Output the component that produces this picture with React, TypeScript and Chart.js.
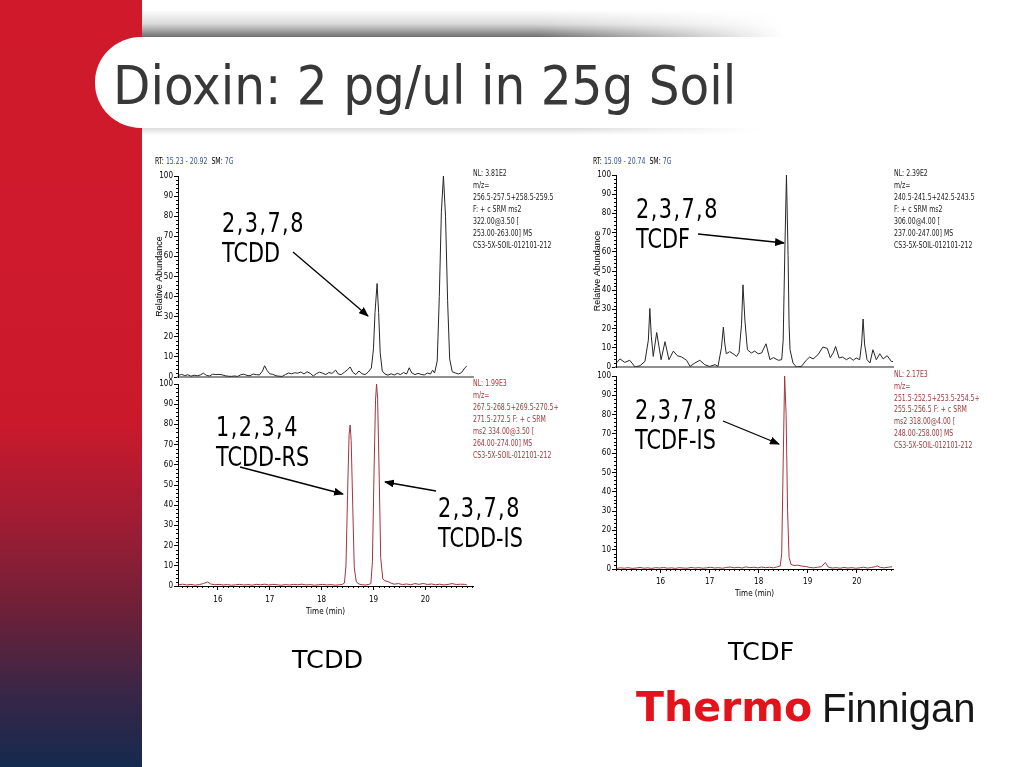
import React, { useEffect, useRef } from 'react';
import { Chart, registerables } from 'chart.js';
Chart.register(...registerables);

// ---------------- DATA ----------------
// 2,3,7,8-TCDD trace (top left), m/z 256.5-259.5
const tcddTime = [
  15.24, 15.30, 15.36, 15.42, 15.48, 15.54, 15.60, 15.66, 15.72, 15.78,
  15.84, 15.90, 15.96, 16.02, 16.08, 16.14, 16.20, 16.26, 16.32, 16.38,
  16.44, 16.50, 16.56, 16.62, 16.68, 16.74, 16.80, 16.86, 16.90, 16.95,
  17.00, 17.06, 17.12, 17.18, 17.24, 17.30, 17.36, 17.42, 17.48, 17.54,
  17.60, 17.66, 17.72, 17.78, 17.84, 17.90, 17.96, 18.02, 18.08, 18.14,
  18.20, 18.27, 18.32, 18.38, 18.44, 18.50, 18.55, 18.60, 18.66, 18.72,
  18.78, 18.84, 18.90, 18.96, 19.00, 19.03, 19.07, 19.10, 19.13, 19.17,
  19.22, 19.28, 19.34, 19.40, 19.46, 19.52, 19.58, 19.64, 19.69, 19.74,
  19.80, 19.86, 19.92, 19.98, 20.04, 20.10, 20.14, 20.18, 20.23, 20.27,
  20.31, 20.35, 20.39, 20.43, 20.47, 20.52, 20.58, 20.64, 20.70, 20.76,
  20.80,
];
const tcddAbund = [
  0.8, 1.3, 0.7, 1.1, 0.4, 0.9, 0.6, 1.0, 1.9, 0.8,
  0.5, 1.4, 1.2, 1.3, 1.1, 0.6, 0.4, 0.3, 0.5, 0.3,
  1.1, 1.4, 0.8, 0.6, 1.5, 1.2, 1.0, 3.0, 5.6, 3.2,
  1.6, 1.3, 0.6, 0.4, 0.3, 1.2, 2.0, 1.6, 2.1, 1.9,
  2.5, 1.5, 2.6, 1.8, 0.5, 1.7, 2.4, 1.9, 1.2, 2.2,
  1.8, 3.4, 1.5, 1.2, 2.4, 3.6, 5.0, 2.4, 1.2, 3.0,
  1.6, 1.2, 2.5, 4.5, 14, 32, 46.5, 32, 12, 3.0,
  1.5, 0.9, 1.6, 1.0, 1.8, 1.2, 2.2, 1.5, 4.6, 2.0,
  1.2, 1.8, 1.3, 1.0, 2.0, 1.5, 3.4, 2.0, 8, 40,
  82, 100, 80, 38, 9, 2.6, 2.0, 1.5, 2.2, 4.5,
  5.4,
];

// 1,2,3,4-TCDD-RS and 2,3,7,8-TCDD-IS trace (bottom left)
const tcddIsTime = [
  15.24, 15.32, 15.40, 15.48, 15.56, 15.64, 15.72, 15.80, 15.86, 15.94,
  16.02, 16.10, 16.18, 16.26, 16.34, 16.42, 16.50, 16.58, 16.66, 16.74,
  16.82, 16.90, 16.98, 17.06, 17.14, 17.22, 17.30, 17.38, 17.46, 17.54,
  17.62, 17.70, 17.78, 17.86, 17.94, 18.02, 18.10, 18.18, 18.26, 18.34,
  18.40, 18.44, 18.47, 18.50, 18.53, 18.55, 18.57, 18.60, 18.63, 18.67,
  18.72, 18.78, 18.84, 18.90, 18.95, 18.98, 19.01, 19.04, 19.06, 19.08,
  19.11, 19.14, 19.18, 19.22, 19.28, 19.34, 19.40, 19.48, 19.56, 19.64,
  19.72, 19.80, 19.88, 19.96, 20.04, 20.12, 20.20, 20.28, 20.36, 20.44,
  20.52, 20.60, 20.68, 20.76, 20.80,
];
const tcddIsAbund = [
  0.6, 0.9, 0.5, 0.8, 0.4, 0.7, 1.2, 2.0, 1.0, 0.6,
  0.8, 0.5, 0.7, 0.4, 0.6, 0.8, 0.5, 0.7, 0.4, 0.8,
  0.6, 0.9, 0.5, 0.8, 0.6, 0.4, 0.7, 0.5, 0.8, 0.6,
  0.9, 0.5, 0.7, 0.4, 0.6, 0.8, 0.5, 0.7, 0.4, 0.6,
  0.8, 1.5, 10, 45, 75, 79.7, 72, 40, 9, 2.0,
  1.0, 0.6, 0.5, 0.7, 1.2, 12, 55, 92, 100, 93,
  55, 14, 3.5, 2.6, 2.2, 1.4, 0.9, 1.2, 0.7, 1.0,
  0.6, 1.2, 0.8, 1.3, 0.7, 1.0, 0.6, 0.9, 0.5, 0.8,
  1.2, 0.7, 0.9, 0.8, 0.6,
];

// 2,3,7,8-TCDF trace (top right)
const tcdfTime = [
  15.10, 15.17, 15.27, 15.37, 15.48, 15.58, 15.68, 15.75, 15.78, 15.81,
  15.85, 15.92, 16.01, 16.09, 16.17, 16.26, 16.34, 16.43, 16.53, 16.60,
  16.70, 16.80, 16.90, 17.00, 17.11, 17.17, 17.24, 17.28, 17.31, 17.34,
  17.41, 17.48, 17.55, 17.60, 17.65, 17.68, 17.72, 17.77, 17.85, 17.92,
  17.99, 18.06, 18.15, 18.23, 18.30, 18.40, 18.47, 18.50, 18.535, 18.567,
  18.60, 18.62, 18.64, 18.70, 18.77, 18.87, 18.97, 19.04, 19.11, 19.21,
  19.31, 19.40, 19.46, 19.52, 19.57, 19.64, 19.71, 19.79, 19.86, 19.93,
  19.99, 20.06, 20.10, 20.13, 20.16, 20.21, 20.27, 20.33, 20.40, 20.47,
  20.54, 20.62, 20.71, 20.74,
];
const tcdfAbund = [
  2.1, 4.2, 2.4, 3.5, 0, 0.7, 2.9, 14, 30.5, 16,
  5.5, 18, 3.8, 13.2, 3.8, 8.3, 5.9, 5.2, 3.5, 0.3,
  2.1, 3.5, 1.2, 0.3, 1.2, 0.3, 10, 20.8, 12, 6.9,
  8, 6.9, 5.5, 7.6, 22, 42.8, 24, 9, 7.3, 8.3,
  6.9, 7.3, 12.1, 3.8, 4.9, 3.5, 3.8, 14, 62, 100,
  58, 22, 9, 2.1, 0, 0.3, 3.5, 5.2, 4.2, 6.4,
  10.4, 9.7, 4.9, 7.3, 10.7, 4.7, 5.2, 3.8, 4.9, 3.5,
  4.7, 3.8, 12, 25, 12, 3.8, 2.1, 9, 3.8, 6.9,
  4.2, 5.9, 2.8, 2.9,
];

// 2,3,7,8-TCDF-IS trace (bottom right)
const tcdfIsTime = [
  15.10, 15.18, 15.26, 15.34, 15.42, 15.50, 15.58, 15.66, 15.74, 15.82,
  15.90, 15.98, 16.06, 16.14, 16.22, 16.30, 16.38, 16.46, 16.54, 16.62,
  16.70, 16.78, 16.86, 16.94, 17.02, 17.10, 17.18, 17.26, 17.34, 17.42,
  17.50, 17.58, 17.66, 17.74, 17.82, 17.90, 17.98, 18.06, 18.14, 18.22,
  18.30, 18.38, 18.44, 18.47, 18.50, 18.53, 18.56, 18.59, 18.62, 18.66,
  18.72, 18.80, 18.88, 18.96, 19.04, 19.12, 19.20, 19.28, 19.36, 19.42,
  19.50, 19.58, 19.66, 19.74, 19.82, 19.90, 19.98, 20.06, 20.14, 20.22,
  20.30, 20.38, 20.42, 20.48, 20.56, 20.64, 20.72,
];
const tcdfIsAbund = [
  0.3, 0.6, 0.4, 0.7, 0.3, 0.5, 0.8, 0.4, 0.6, 0.3,
  0.7, 0.5, 0.8, 0.4, 0.6, 0.3, 0.7, 0.5, 0.4, 0.8,
  0.5, 0.7, 0.4, 0.6, 0.9, 0.5, 0.7, 0.4, 0.8, 1.0,
  0.6, 0.9, 0.5, 1.1, 0.7, 0.9, 0.6, 1.0, 0.7, 0.9,
  0.6, 1.1, 1.6, 8, 55, 100, 80, 30, 6, 2.4,
  1.8, 2.0, 1.5, 1.3, 0.8, 0.6, 0.9, 1.2, 3.4, 1.0,
  0.5, 0.7, 0.4, 0.8, 0.5, 0.7, 0.4, 0.6, 0.9, 0.5,
  0.8, 1.2, 1.6, 0.8, 0.6, 0.9, 1.2,
];

// axis ranges / ticks
const tcddRange = [15.23, 20.92];
const tcdfRange = [15.09, 20.74];
const yRange = [0, 100];
const yMajorStep = 10;
const yMinorStep = 2;
const xMajorStep = 1;
const xMinorStep = 0.1;

// header / info texts
const tcddRT = ['15.23 - 20.92', '7G'];
const tcdfRT = ['15.09 - 20.74', '7G'];
const tcddInfo = ['NL: 3.81E2', 'm/z=', '256.5-257.5+258.5-259.5', 'F: + c SRM ms2', '322.00@3.50 [', '253.00-263.00] MS', 'CS3-5X-SOIL-012101-212'];
const tcddIsInfo = ['NL: 1.99E3', 'm/z=', '267.5-268.5+269.5-270.5+', '271.5-272.5 F: + c SRM', 'ms2 334.00@3.50 [', '264.00-274.00] MS', 'CS3-5X-SOIL-012101-212'];
const tcdfInfo = ['NL: 2.39E2', 'm/z=', '240.5-241.5+242.5-243.5', 'F: + c SRM ms2', '306.00@4.00 [', '237.00-247.00] MS', 'CS3-5X-SOIL-012101-212'];
const tcdfIsInfo = ['NL: 2.17E3', 'm/z=', '251.5-252.5+253.5-254.5+', '255.5-256.5 F: + c SRM', 'ms2 318.00@4.00 [', '248.00-258.00] MS', 'CS3-5X-SOIL-012101-212'];

// ---------------- STYLE ----------------
const NARROW = '"Liberation Sans Narrow", "Arial Narrow", "DejaVu Sans Condensed", sans-serif';
const BLACK_TRACE = '#262626';
const RED_TRACE = '#a3353b';
const RED_TEXT = '#a03a3e';
const BLUE_TEXT = '#2f4fa8';
const Y_W = 24;
const PAD_T = 8;
const PAD_R = 2;

const minorTicksPlugin = {
  id: 'minorTicks',
  afterDraw(chart: any, _args: any, opts: any) {
    const ctx = chart.ctx;
    ctx.save();
    ctx.strokeStyle = '#000';
    ctx.lineWidth = 1;
    const ys = chart.scales.y;
    if (opts.yStep) {
      const n = Math.round((ys.max - ys.min) / opts.yStep);
      const per = Math.round(opts.yMajor / opts.yStep);
      for (let k = 0; k <= n; k++) {
        if (k % per === 0) continue;
        const py = Math.round(ys.getPixelForValue(ys.min + k * opts.yStep)) + 0.5;
        ctx.beginPath();
        ctx.moveTo(ys.right - opts.yLen, py);
        ctx.lineTo(ys.right, py);
        ctx.stroke();
      }
    }
    const xs = chart.scales.x;
    if (opts.xStep) {
      const per = Math.round(opts.xMajor / opts.xStep);
      const k0 = Math.ceil(xs.min / opts.xStep - 1e-6);
      const k1 = Math.floor(xs.max / opts.xStep + 1e-6);
      for (let k = k0; k <= k1; k++) {
        if (k % per === 0) continue;
        const px = Math.round(xs.getPixelForValue(k * opts.xStep)) + 0.5;
        ctx.beginPath();
        ctx.moveTo(px, xs.top);
        ctx.lineTo(px, xs.top + opts.xLen);
        ctx.stroke();
      }
    }
    ctx.restore();
  },
};

type Spec = {
  left: number; top: number; areaW: number; areaH: number;
  times: number[]; values: number[]; color: string;
  range: number[]; showX: boolean; yTitle: boolean;
  xAxisH: number; xTickLen: number; xTickPad: number;
};

function buildConfig(s: Spec): any {
  const tickFont = { family: NARROW, size: 8 };
  const xScale: any = s.showX
    ? {
        type: 'linear', min: s.range[0], max: s.range[1],
        grid: { display: true, drawOnChartArea: false, drawTicks: true, tickLength: s.xTickLen, color: '#000', lineWidth: 1 },
        border: { display: true, color: '#000', width: 1 },
        ticks: { stepSize: xMajorStep, includeBounds: false, autoSkip: false, maxRotation: 0, padding: s.xTickPad, color: '#000', font: tickFont },
        title: { display: true, text: 'Time (min)', padding: 0, color: '#000', font: tickFont },
        afterFit: (sc: any) => { sc.height = s.xAxisH; },
      }
    : {
        type: 'linear', min: s.range[0], max: s.range[1],
        grid: { display: false },
        border: { display: true, color: '#8f8f8f', width: 2 },
        ticks: { display: false },
        afterFit: (sc: any) => { sc.height = s.xAxisH; },
      };
  return {
    type: 'line',
    data: {
      datasets: [{
        data: s.times.map((t, i) => ({ x: t, y: s.values[i] })),
        borderColor: s.color, borderWidth: 1, pointRadius: 0, tension: 0, fill: false,
      }],
    },
    options: {
      animation: false, responsive: false, maintainAspectRatio: false, events: [],
      layout: { padding: { top: PAD_T, right: PAD_R, left: 0, bottom: 0 } },
      plugins: {
        legend: { display: false }, tooltip: { enabled: false },
        minorTicks: {
          yStep: yMinorStep, yMajor: yMajorStep, yLen: 2,
          xStep: s.showX ? xMinorStep : 0, xMajor: xMajorStep, xLen: 2,
        },
      },
      scales: {
        x: xScale,
        y: {
          type: 'linear', min: yRange[0], max: yRange[1],
          grid: { display: true, drawOnChartArea: false, drawTicks: true, tickLength: 4, color: '#000', lineWidth: 1 },
          border: { display: true, color: '#000', width: 1 },
          ticks: { stepSize: yMajorStep, autoSkip: false, padding: 1, color: '#000', font: tickFont },
          title: { display: s.yTitle, text: 'Relative Abundance', padding: 0, color: '#000', font: { family: '"Liberation Sans", Arial, sans-serif', size: 9 } },
          afterFit: (sc: any) => { sc.width = Y_W; },
        },
      },
    },
    plugins: [minorTicksPlugin],
  };
}

function Panel({ spec }: { spec: Spec }) {
  const ref = useRef<HTMLCanvasElement>(null);
  const w = Y_W + spec.areaW + PAD_R;
  const h = PAD_T + spec.areaH + spec.xAxisH;
  useEffect(() => {
    const chart = new Chart(ref.current as HTMLCanvasElement, buildConfig(spec));
    return () => chart.destroy();
  }, []);
  return (
    <canvas ref={ref} width={w} height={h}
      style={{ position: 'absolute', left: spec.left - Y_W, top: spec.top - PAD_T, width: w, height: h }} />
  );
}

const specs: Spec[] = [
  { left: 178, top: 176, areaW: 295, areaH: 201, times: tcddTime, values: tcddAbund, color: BLACK_TRACE, range: tcddRange, showX: false, yTitle: true, xAxisH: 6, xTickLen: 0, xTickPad: 0 },
  { left: 178, top: 384, areaW: 295, areaH: 202, times: tcddIsTime, values: tcddIsAbund, color: RED_TRACE, range: tcddRange, showX: true, yTitle: false, xAxisH: 31, xTickLen: 4, xTickPad: 5 },
  { left: 616, top: 175, areaW: 277, areaH: 192, times: tcdfTime, values: tcdfAbund, color: BLACK_TRACE, range: tcdfRange, showX: false, yTitle: true, xAxisH: 6, xTickLen: 0, xTickPad: 0 },
  { left: 616, top: 376, areaW: 277, areaH: 193, times: tcdfIsTime, values: tcdfIsAbund, color: RED_TRACE, range: tcdfRange, showX: true, yTitle: false, xAxisH: 30, xTickLen: 4, xTickPad: 4 },
];

function Info({ x, c, lines, color, lh }: { x: number; c: number; lines: string[]; color: string; lh: number }) {
  return (
    <div style={{ position: 'absolute', left: x, top: c - lh / 2, fontFamily: NARROW, fontSize: 8, lineHeight: lh + 'px', color, whiteSpace: 'pre', transform: 'scaleX(0.86)', transformOrigin: '0 0' }}>
      {lines.map((l, i) => <div key={i}>{l}</div>)}
    </div>
  );
}

function RT({ x, c, vals }: { x: number; c: number; vals: string[] }) {
  return (
    <div style={{ position: 'absolute', left: x, top: c - 5, fontFamily: NARROW, fontSize: 8, lineHeight: '10px', color: '#000', whiteSpace: 'pre', transform: 'scaleX(0.86)', transformOrigin: '0 0' }}>
      RT: <span style={{ color: BLUE_TEXT }}>{vals[0]}</span>{'  '}SM: <span style={{ color: BLUE_TEXT }}>{vals[1]}</span>
    </div>
  );
}

function Note({ x, b, l1, l2 }: { x: number; b: number; l1: string; l2: string }) {
  return (
    <div style={{ position: 'absolute', left: x, top: b - 24, fontFamily: '"DejaVu Sans", sans-serif', fontSize: 26, lineHeight: '30px', color: '#000', whiteSpace: 'pre', transform: 'scaleX(0.8)', transformOrigin: '0 0' }}>
      <div style={{ letterSpacing: '1.8px' }}>{l1}</div>
      <div>{l2}</div>
    </div>
  );
}

const arrows = [
  [293, 252, 368, 316],
  [240, 467, 343, 494],
  [436, 491, 385, 482],
  [698, 234, 784, 243],
  [723, 421, 779, 444],
];

export default function App() {
  useEffect(() => { document.body.style.margin = '0'; }, []);
  return (
    <div style={{ position: 'fixed', left: 0, top: 0, width: 1023, height: 767, background: '#fff', overflow: 'hidden' }}>
      {/* left strip */}
      <div style={{ position: 'absolute', left: 0, top: 0, width: 142, height: 767, background: 'linear-gradient(to bottom, #d01a2b 0%, #cb192c 55%, #a31c32 67%, #702038 79%, #3a2646 90%, #15294f 100%)' }} />
      {/* title shadow */}
      <div style={{ position: 'absolute', left: 142, top: 10, width: 640, height: 28, background: 'linear-gradient(to bottom, rgba(0,0,0,0) 0%, rgba(0,0,0,0.15) 50%, rgba(0,0,0,0.6) 100%)', WebkitMaskImage: 'linear-gradient(to right, #000 0%, #000 62%, transparent 100%)', maskImage: 'linear-gradient(to right, #000 0%, #000 62%, transparent 100%)' } as any} />
      <div style={{ position: 'absolute', left: 142, top: 128, width: 620, height: 7, background: 'linear-gradient(to bottom, rgba(0,0,0,0.14), rgba(0,0,0,0))', WebkitMaskImage: 'linear-gradient(to right, #000 0%, #000 70%, transparent 100%)', maskImage: 'linear-gradient(to right, #000 0%, #000 70%, transparent 100%)' } as any} />
      {/* title banner */}
      <div style={{ position: 'absolute', left: 95, top: 37, width: 940, height: 91, background: '#fff', borderTopLeftRadius: '46px 45px', borderBottomLeftRadius: '46px 45px' }} />
      <div style={{ position: 'absolute', left: 113, top: 59, fontFamily: '"DejaVu Sans Condensed", "DejaVu Sans", sans-serif', fontSize: 54, lineHeight: '54px', color: '#383838', whiteSpace: 'pre' }}>
        Dioxin: 2 pg/ul in 25g Soil
      </div>

      {/* headers */}
      <RT x={155} c={162} vals={tcddRT} />
      <RT x={593} c={162} vals={tcdfRT} />

      {/* charts */}
      {specs.map((s, i) => <Panel key={i} spec={s} />)}

      {/* info blocks */}
      <Info x={473} c={173.5} lines={tcddInfo} color="#222" lh={12} />
      <Info x={473} c={384} lines={tcddIsInfo} color={RED_TEXT} lh={12} />
      <Info x={894} c={174} lines={tcdfInfo} color="#222" lh={12} />
      <Info x={894} c={375} lines={tcdfIsInfo} color={RED_TEXT} lh={11.8} />

      {/* annotations */}
      <Note x={222} b={232} l1="2,3,7,8" l2="TCDD" />
      <Note x={216} b={436} l1="1,2,3,4" l2="TCDD-RS" />
      <Note x={438} b={517} l1="2,3,7,8" l2="TCDD-IS" />
      <Note x={636} b={218} l1="2,3,7,8" l2="TCDF" />
      <Note x={635} b={419} l1="2,3,7,8" l2="TCDF-IS" />

      <svg width={1023} height={767} style={{ position: 'absolute', left: 0, top: 0 }}>
        <defs>
          <marker id="ah" markerWidth="10" markerHeight="8" refX="9" refY="4" orient="auto" markerUnits="userSpaceOnUse">
            <polygon points="0 0, 10 4, 0 8" fill="#000" />
          </marker>
        </defs>
        {arrows.map((a, i) => (
          <line key={i} x1={a[0]} y1={a[1]} x2={a[2]} y2={a[3]} stroke="#000" strokeWidth={1.3} markerEnd="url(#ah)" />
        ))}
      </svg>

      {/* bottom labels */}
      <div style={{ position: 'absolute', left: 292, top: 668 - 24, fontFamily: '"DejaVu Sans", sans-serif', fontSize: 25.5, lineHeight: '30px', color: '#000' }}>TCDD</div>
      <div style={{ position: 'absolute', left: 728, top: 660 - 24, fontFamily: '"DejaVu Sans", sans-serif', fontSize: 25.5, lineHeight: '30px', color: '#000' }}>TCDF</div>

      {/* logo */}
      <div style={{ position: 'absolute', left: 636, top: 687, fontFamily: '"DejaVu Sans", sans-serif', fontWeight: 700, fontSize: 41, lineHeight: '41px', color: '#e2131b', whiteSpace: 'pre' }}>Thermo</div>
      <div style={{ position: 'absolute', left: 822, top: 688, fontFamily: '"Liberation Sans", Arial, sans-serif', fontSize: 40, lineHeight: '40px', color: '#161616', whiteSpace: 'pre' }}>Finnigan</div>
    </div>
  );
}
